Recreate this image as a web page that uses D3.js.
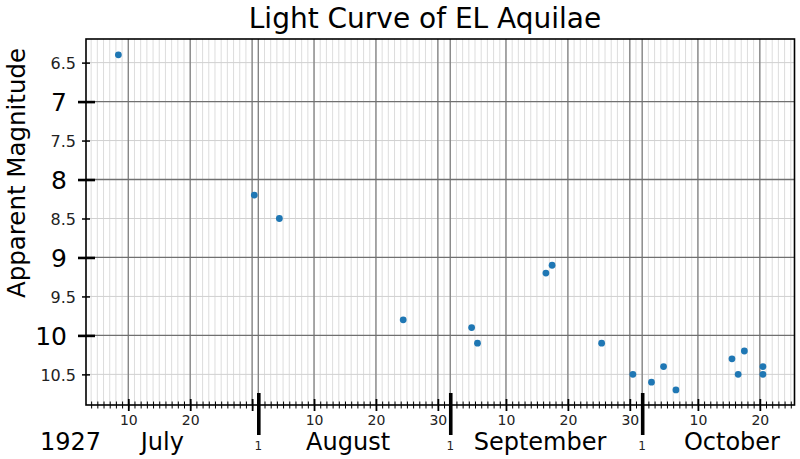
<!DOCTYPE html>
<html><head><meta charset="utf-8">
<script src="https://cdn.jsdelivr.net/npm/d3@7"></script>
<style>body{margin:0;background:#fff;} svg{display:block;font-family:"DejaVu Sans",sans-serif;}</style>
</head><body><svg id="c" width="800" height="459"></svg>
<script>
// ---- data ----
const title = "Light Curve of EL Aquilae";
const yTitle = "Apparent Magnitude";
const year = "1927";
const monthNames = ["July", "August", "September", "October"];
const monthLengths = [30, 31, 31, 30];          // month lengths as laid out on the chart's axis
const minorDays = [10, 20, 30];
const minorLabelDays = [[10, 20], [10, 20, 30], [10, 20, 30], [10, 20]];
const obsMonth = [0, 0, 1, 1, 2, 2, 2, 2, 2, 2, 3, 3, 3, 3, 3, 3, 3, 3];
const obsDay = [8.4, 30.35, 4.4, 24.4, 4.45, 5.4, 16.45, 17.45, 25.45, 30.5, 2.5, 4.45, 6.45, 15.5, 16.5, 17.5, 20.5, 20.5];
const magnitude = [6.4, 8.2, 8.5, 9.8, 9.9, 10.1, 9.2, 9.1, 10.1, 10.5, 10.6, 10.4, 10.7, 10.3, 10.5, 10.2, 10.4, 10.5];
const yMajorTicks = [7, 8, 9, 10];
const yMinorTicks = [6.5, 7.5, 8.5, 9.5, 10.5];

// ---- layout ----
const L = 86, R = 794.5, T = 39, B = 405;
const svg = d3.select("#c");

const monthStart = monthLengths.reduce((a, len, i) => { a.push(i ? a[i - 1] + monthLengths[i - 1] : 0); return a; }, []);
const tOf = (m, d) => monthStart[m] + d - 1;

const x = d3.scaleLinear().domain([2.17, 116.6]).range([L, R]);
const y = d3.scaleLinear().domain([6.197, 10.893]).range([T, B]);
const [x0, x1] = x.domain();

const dailyT = d3.range(Math.ceil(x0), Math.floor(x1) + 1);
const minorT = [], minorLabT = [], minorLabTxt = [];
monthNames.forEach((_, m) => {
  minorDays.forEach(d => { if (d <= monthLengths[m]) { const t = tOf(m, d); if (t >= x0 && t <= x1) minorT.push(t); } });
  minorLabelDays[m].forEach(d => { const t = tOf(m, d); if (t >= x0 && t <= x1) { minorLabT.push(t); minorLabTxt.push(String(d)); } });
});
const monthT = monthStart.filter(t => t >= x0 && t <= x1);

// ---- grid ----
const grid = svg.append("g");
grid.selectAll("line.vl").data(dailyT).join("line")
  .attr("x1", d => x(d)).attr("x2", d => x(d)).attr("y1", T).attr("y2", B)
  .attr("stroke", "#d9d9d9").attr("stroke-width", 0.9);
grid.selectAll("line.hl").data(yMinorTicks).join("line")
  .attr("x1", L).attr("x2", R).attr("y1", d => y(d)).attr("y2", d => y(d))
  .attr("stroke", "#d0d0d0").attr("stroke-width", 1);
grid.selectAll("line.vd").data(minorT.concat(monthT)).join("line")
  .attr("x1", d => x(d)).attr("x2", d => x(d)).attr("y1", T).attr("y2", B)
  .attr("stroke", "#808080").attr("stroke-width", 1.3);
grid.selectAll("line.hd").data(yMajorTicks).join("line")
  .attr("x1", L).attr("x2", R).attr("y1", d => y(d)).attr("y2", d => y(d))
  .attr("stroke", "#707070").attr("stroke-width", 1.3);

// ---- points ----
svg.append("g").selectAll("circle").data(magnitude).join("circle")
  .attr("cx", (d, i) => x(tOf(obsMonth[i], obsDay[i])))
  .attr("cy", d => y(d))
  .attr("r", 3.4).attr("fill", "#1f77b4");

// ---- frame ----
svg.append("rect").attr("x", L).attr("y", T).attr("width", R - L).attr("height", B - T)
  .attr("fill", "none").attr("stroke", "#000").attr("stroke-width", 1.6);

// ---- x axis ticks ----
function crossTicks(g, vals, up, down, w) {
  g.call(d3.axisBottom(x).tickValues(vals).tickFormat("").tickSizeOuter(0));
  g.select(".domain").remove();
  g.selectAll(".tick line").attr("y1", -up).attr("y2", down).attr("stroke", "#000").attr("stroke-width", w);
}
svg.append("g").attr("transform", `translate(0,${B})`).call(g => crossTicks(g, dailyT, 3.5, 3.5, 1));
svg.append("g").attr("transform", `translate(0,${B})`).call(g => crossTicks(g, minorT, 6, 6, 1.8));
svg.append("g").attr("transform", `translate(0,${B})`).call(g => crossTicks(g, monthT, 12, 30, 3.6));

// minor labels
const mlab = svg.append("g").attr("transform", `translate(0,${B})`)
  .call(d3.axisBottom(x).tickValues(minorLabT).tickSize(0).tickFormat((d, i) => minorLabTxt[i]));
mlab.select(".domain").remove();
mlab.selectAll("text").attr("y", 19.5).attr("dy", null).attr("font-size", 14)
  .attr("font-family", "DejaVu Sans").attr("fill", "#222");

// "1" labels
svg.append("g").selectAll("text").data(monthT).join("text")
  .attr("x", d => x(d)).attr("y", 449.5).attr("text-anchor", "middle")
  .attr("font-size", 12).attr("fill", "#222").text("1");

// month names
svg.append("g").selectAll("text").data(monthNames).join("text")
  .attr("x", (d, i) => x(monthStart[i] + 14.5)).attr("y", 450).attr("text-anchor", "middle")
  .attr("font-size", 24).attr("fill", "#000").text(d => d);
svg.append("text").attr("x", 40).attr("y", 450).attr("font-size", 24).text(year);

// ---- y axis ----
const ya = svg.append("g").attr("transform", `translate(${L},0)`)
  .call(d3.axisLeft(y).tickValues(yMajorTicks).tickFormat(d3.format("d")).tickSizeOuter(0));
ya.select(".domain").remove();
ya.selectAll(".tick line").attr("x1", -8).attr("x2", 9).attr("stroke", "#000").attr("stroke-width", 2.6);
ya.selectAll(".tick text").attr("x", -19).attr("dy", "0.36em").attr("font-size", 25)
  .attr("font-family", "DejaVu Sans").attr("fill", "#000");
const yb = svg.append("g").attr("transform", `translate(${L},0)`)
  .call(d3.axisLeft(y).tickValues(yMinorTicks).tickFormat(d3.format(".1f")).tickSizeOuter(0));
yb.select(".domain").remove();
yb.selectAll(".tick line").attr("x1", -4).attr("x2", 4).attr("stroke", "#000").attr("stroke-width", 1.5);
yb.selectAll(".tick text").attr("x", -10).attr("dy", "0.36em").attr("font-size", 16)
  .attr("font-family", "DejaVu Sans").attr("fill", "#222");

// ---- titles ----
svg.append("text").attr("x", 425).attr("y", 28).attr("text-anchor", "middle")
  .attr("font-size", 28).text(title);
svg.append("text").attr("transform", "translate(25,173) rotate(-90)").attr("text-anchor", "middle")
  .attr("font-size", 24.5).text(yTitle);
</script></body></html>
